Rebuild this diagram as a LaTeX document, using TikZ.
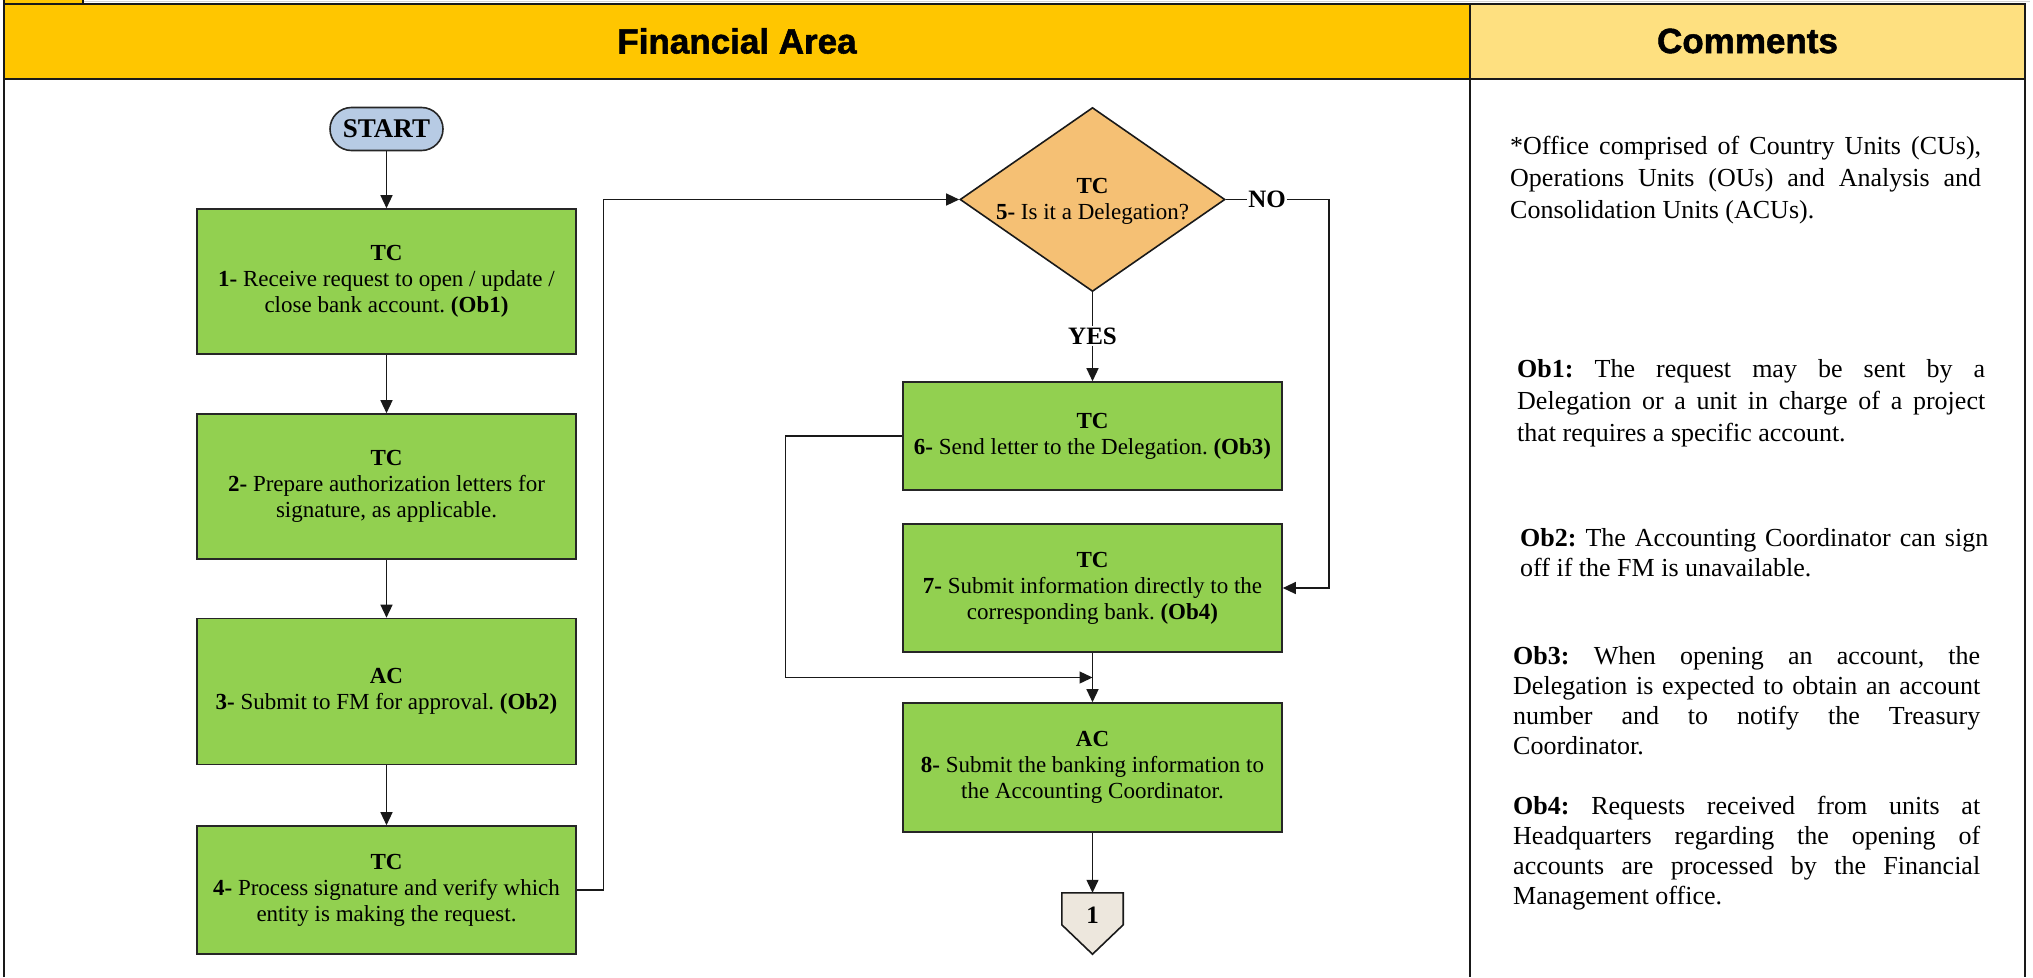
\documentclass[tikz,border=0pt]{standalone}
\usepackage{fontspec}
\setmainfont{Liberation Serif}
\newfontfamily\headfont{Liberation Sans}[BoldFeatures={FakeBold=1.5}]
\usetikzlibrary{arrows.meta,calc,shapes.geometric}
\frenchspacing

\definecolor{hdrorange}{RGB}{255,198,0}
\definecolor{hdryellow}{RGB}{254,224,128}
\definecolor{stepgreen}{RGB}{146,208,80}
\definecolor{decorange}{RGB}{245,192,116}
\definecolor{startblue}{RGB}{183,203,228}
\definecolor{pagebeige}{RGB}{237,231,221}

\newcommand\stepfont{\fontsize{23}{26}\selectfont}
\newcommand\notesfont[1]{\fontsize{26}{#1}\selectfont\sloppy\frenchspacing\hyphenpenalty=10000\exhyphenpenalty=10000}

\begin{document}
\begin{tikzpicture}[x=1pt,y=-1pt,
  frame/.style={line width=2.6pt, draw=black!90},
  title/.style={font=\headfont\fontsize{35}{40}\selectfont\bfseries, inner sep=0pt},
  stepbox/.style={draw=black!85, line width=1.6pt, fill=stepgreen, minimum width=379pt,
    align=center, font=\stepfont\frenchspacing, inner sep=0pt},
  startnode/.style={draw=black!85, line width=1.6pt, fill=startblue, rounded corners=21.5pt,
    minimum width=113pt, minimum height=43pt, inner sep=0pt, font=\fontsize{27}{30}\selectfont\bfseries},
  decision/.style={diamond, draw=black!90, line width=1.6pt, fill=decorange,
    minimum width=265pt, minimum height=184pt, inner sep=0pt},
  lbl/.style={font=\fontsize{25}{28}\selectfont\bfseries, inner sep=1pt},
  offpage/.style={minimum width=61pt, minimum height=61pt, inner sep=0pt},
  link/.style={draw=black!90, line width=1.3pt},
  flow/.style={link, -{Triangle[length=13pt,width=12pt]}},
  note/.style={anchor=base west, inner sep=0pt}
]
\useasboundingbox (0,0) rectangle (2033,977);

% table frame and header row
\fill[hdrorange] (4,4) rectangle (1470,79);
\fill[hdryellow] (1470,4) rectangle (2025,79);
\draw[gray!35, line width=1pt] (83,1) -- (2030,1);
\draw[frame, fill=hdrorange] (4,-8) rectangle (83,4);
\draw[frame] (4,977) -- (4,4) -- (2025,4) -- (2025,977);
\draw[frame] (4,79) -- (2025,79);
\draw[frame] (1470,4) -- (1470,977);
\node[title] (tfin) at (737,41) {Financial Area};
\node[title] (tcom) at (1747.5,41) {Comments};

% left column of steps
\node[startnode] (start) at (386.5,129) {START};
\node[stepbox, minimum height=145pt] (b1) at (386.5,281.5)
  {\textbf{TC}\\\textbf{1-} Receive request to open / update /\\close bank account. \textbf{(Ob1)}};
\node[stepbox, minimum height=145pt] (b2) at (386.5,486.5)
  {\textbf{TC}\\\textbf{2-} Prepare authorization letters for\\signature, as applicable.};
\node[stepbox, minimum height=146pt] (b3) at (386.5,691.5)
  {\textbf{AC}\\\textbf{3-} Submit to FM for approval. \textbf{(Ob2)}};
\node[stepbox, minimum height=128pt] (b4) at (386.5,890)
  {\textbf{TC}\\\textbf{4-} Process signature and verify which\\entity is making the request.};

% decision and right column of steps
\node[decision] (q5) at (1092.5,199.5) {};
\node[align=center, font=\stepfont, inner sep=0pt] (q5t) at (1092.5,201)
  {\textbf{TC}\\\textbf{5-} Is it a Delegation?};
\node[lbl] (no) at (1267,199.5) {NO};
\node[lbl] (yes) at (1092.5,336) {YES};
\coordinate (nocorner) at (1329,199.5);

\node[stepbox, minimum height=108pt] (b6) at (1092.5,436)
  {\textbf{TC}\\\textbf{6-} Send letter to the Delegation. \textbf{(Ob3)}};
\node[stepbox, minimum height=128pt] (b7) at (1092.5,588)
  {\textbf{TC}\\\textbf{7-} Submit information directly to the\\corresponding bank. \textbf{(Ob4)}};
\node[stepbox, minimum height=129pt] (b8) at (1092.5,767.5)
  {\textbf{AC}\\\textbf{8-} Submit the banking information to\\the Accounting Coordinator.};

% off-page connector
\node[offpage] (off) at (1092.5,923.5) {};
\draw[line width=1.6pt, draw=black!90, fill=pagebeige]
  (off.north west) -- (off.north east) -- ++(0,32) -- (off.south)
  -- ($(off.north west)+(0,32)$) -- cycle;
\node[font=\fontsize{25}{28}\selectfont\bfseries, inner sep=0pt] (offnum) at (1092.5,915) {1};

% connectors
\draw[flow] (start) -- (b1);
\draw[flow] (b1) -- (b2);
\draw[flow] (b2) -- (b3);
\draw[flow] (b3) -- (b4);
\draw[flow] (b4.east) -- ++(27,0) |- (q5.west);
\draw[link] (q5.east) -- (no.west);
\draw[flow] (no.east) -- (nocorner) |- (b7.east);
\draw[link] (q5.south) -- (yes.north);
\draw[flow] (yes.south) -- (b6.north);
\coordinate (j) at ($(b7.south)!0.5!(b8.north)$);
\draw[flow] (b6.west) -- ++(-117,0) |- (j);
\draw[flow] (b7.south) -- (b8.north);
\draw[flow] (b8.south) -- (off.north);

% comments column
\node[note] (n0) at (1510,154) {\parbox[t]{471pt}{\notesfont{32}*Office comprised of Country Units (CUs),\linebreak
  Operations Units (OUs) and Analysis and\linebreak Consolidation Units (ACUs).}};
\node[note] (n1) at (1517,377) {\parbox[t]{468pt}{\notesfont{32}\textbf{Ob1:} The request may be sent by a\linebreak
  Delegation or a unit in charge of a project\linebreak that requires a specific account.}};
\node[note] (n2) at (1520,546) {\parbox[t]{468pt}{\notesfont{30}\textbf{Ob2:} The Accounting Coordinator can sign\linebreak
  off if the FM is unavailable.}};
\node[note] (n3) at (1513,664) {\parbox[t]{467pt}{\notesfont{30}\textbf{Ob3:} When opening an account, the\linebreak
  Delegation is expected to obtain an account\linebreak number and to notify the Treasury\linebreak Coordinator.}};
\node[note] (n4) at (1513,814) {\parbox[t]{467pt}{\notesfont{30}\textbf{Ob4:} Requests received from units at\linebreak
  Headquarters regarding the opening of\linebreak accounts are processed by the Financial\linebreak Management office.}};
\end{tikzpicture}
\end{document}
